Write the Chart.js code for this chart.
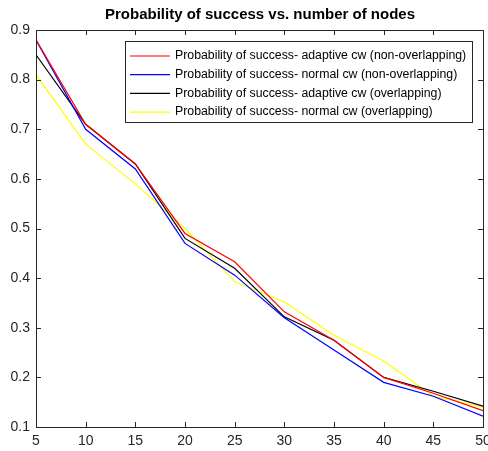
<!DOCTYPE html>
<html>
<head>
<meta charset="utf-8">
<script src="https://cdn.jsdelivr.net/npm/chart.js@4/dist/chart.umd.min.js"></script>
<style>
  html, body { margin: 0; padding: 0; background: #fff; overflow: hidden; }
  #wrap { width: 488px; height: 451px; }
</style>
</head>
<body>
<div id="wrap"><canvas id="myChart" width="488" height="451"></canvas></div>
<script>
// number of nodes
const nodes = [5, 10, 15, 20, 25, 30, 35, 40, 45, 50];

// probability of success per scheme
const adaptiveNonOverlap = [0.88, 0.71, 0.63, 0.49, 0.433, 0.332, 0.275, 0.20, 0.168, 0.133];
const normalNonOverlap   = [0.88, 0.70, 0.62, 0.47, 0.406, 0.32, 0.255, 0.19, 0.162, 0.122];
const adaptiveOverlap    = [0.85, 0.71, 0.63, 0.48, 0.42, 0.322, 0.275, 0.20, 0.172, 0.142];
const normalOverlap      = [0.81, 0.67, 0.59, 0.50, 0.393, 0.352, 0.285, 0.233, 0.162, 0.14];

const seriesNames = [
    'Probability of success- adaptive cw (non-overlapping)',
    'Probability of success- normal cw (non-overlapping)',
    'Probability of success- adaptive cw (overlapping)',
    'Probability of success- normal cw (overlapping)'
];
const seriesColors = ['#ff0000', '#0000ff', '#000000', '#ffff00'];

const xTicks = [5, 10, 15, 20, 25, 30, 35, 40, 45, 50];
const yTicks = [0.1, 0.2, 0.3, 0.4, 0.5, 0.6, 0.7, 0.8, 0.9];

const axisColor = '#262626';
const fontFamily = '"Liberation Sans", Arial, sans-serif';

function toPoints(values) {
    return values.map((v, i) => ({ x: nodes[i], y: v }));
}

// matlab-style box, inward ticks, tick labels, title and legend
const matlabAxes = {
    id: 'matlabAxes',
    afterDraw(chart) {
        const ctx = chart.ctx;
        const area = chart.chartArea;
        const xs = chart.scales.x;
        const ys = chart.scales.y;
        const tickLen = 5;

        ctx.save();
        ctx.strokeStyle = axisColor;
        ctx.lineWidth = 1;
        ctx.strokeRect(Math.round(area.left) + 0.5, Math.round(area.top) + 0.5,
            Math.round(area.right - area.left), Math.round(area.bottom - area.top));

        ctx.beginPath();
        xTicks.forEach(t => {
            const px = Math.round(xs.getPixelForValue(t)) + 0.5;
            ctx.moveTo(px, area.bottom); ctx.lineTo(px, area.bottom - tickLen);
            ctx.moveTo(px, area.top); ctx.lineTo(px, area.top + tickLen);
        });
        yTicks.forEach(t => {
            const py = Math.round(ys.getPixelForValue(t)) + 0.5;
            ctx.moveTo(area.left, py); ctx.lineTo(area.left + tickLen, py);
            ctx.moveTo(area.right, py); ctx.lineTo(area.right - tickLen, py);
        });
        ctx.stroke();

        ctx.fillStyle = axisColor;
        ctx.font = '14px ' + fontFamily;
        ctx.textAlign = 'center';
        ctx.textBaseline = 'top';
        xTicks.forEach(t => {
            ctx.fillText(String(t), xs.getPixelForValue(t), area.bottom + 7);
        });
        ctx.textAlign = 'right';
        ctx.textBaseline = 'middle';
        yTicks.forEach(t => {
            ctx.fillText(t.toFixed(1), area.left - 6, ys.getPixelForValue(t));
        });

        // title
        ctx.fillStyle = '#000';
        ctx.font = 'bold 15px ' + fontFamily;
        ctx.textAlign = 'center';
        ctx.textBaseline = 'middle';
        ctx.fillText('Probability of success vs. number of nodes', (area.left + area.right) / 2 + 0.5, 15);

        // legend
        const lx = 125.5, ly = 41.5, lw = 347, lh = 81;
        ctx.fillStyle = '#fff';
        ctx.fillRect(lx, ly, lw, lh);
        ctx.strokeStyle = axisColor;
        ctx.strokeRect(lx, ly, lw, lh);
        ctx.font = '12.3px ' + fontFamily;
        ctx.textAlign = 'left';
        chart.data.datasets.forEach((ds, i) => {
            const y = 56 + i * 18.7;
            ctx.strokeStyle = ds.borderColor;
            ctx.lineWidth = 1.2;
            ctx.beginPath();
            ctx.moveTo(130, y); ctx.lineTo(170, y);
            ctx.stroke();
            ctx.fillStyle = '#000';
            ctx.fillText(ds.label, 175, y);
        });
        ctx.restore();
    }
};

const ctx = document.getElementById('myChart').getContext('2d');
new Chart(ctx, {
    type: 'line',
    data: {
        datasets: [adaptiveNonOverlap, normalNonOverlap, adaptiveOverlap, normalOverlap].map((vals, i) => ({
            label: seriesNames[i],
            data: toPoints(vals),
            borderColor: seriesColors[i],
            backgroundColor: seriesColors[i],
            borderWidth: 1.2,
            pointRadius: 0,
            tension: 0,
            fill: false
        }))
    },
    options: {
        responsive: false,
        animation: false,
        layout: { padding: { left: 36, right: 5, top: 30, bottom: 24 } },
        plugins: {
            legend: { display: false },
            title: { display: false },
            tooltip: { enabled: false }
        },
        scales: {
            x: {
                type: 'linear', min: 5, max: 50,
                display: false
            },
            y: {
                type: 'linear', min: 0.1, max: 0.9,
                display: false
            }
        }
    },
    plugins: [matlabAxes]
});
</script>
</body>
</html>
